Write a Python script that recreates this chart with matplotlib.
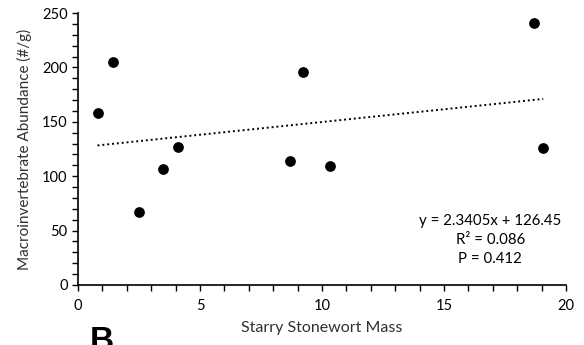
import numpy as np
import matplotlib
matplotlib.use('Agg')
import matplotlib.pyplot as plt
from matplotlib.ticker import MultipleLocator

plt.rcParams['font.family'] = ['Lato', 'DejaVu Sans']

# starry stonewort mass vs macroinvertebrate abundance
mass = [0.80, 1.45, 2.51, 3.50, 4.11, 8.69, 9.23, 10.31, 18.68, 19.07]
abundance = [158, 205, 67, 107, 127, 114, 196, 109, 241, 126]

slope = 2.3405
intercept = 126.45
eq_text = 'y = 2.3405x + 126.45\nR² = 0.086\nP = 0.412'

fig = plt.figure(figsize=(5.84, 3.45), dpi=100)
ax = fig.add_axes([0.1336, 0.174, 0.8354, 0.788])

ax.scatter(mass, abundance, s=45, color='black', zorder=3)

xfit = np.array([min(mass), max(mass)])
ax.plot(xfit, slope * xfit + intercept, color='black', linestyle=(0, (1, 1.5)), linewidth=1.4)

ax.set_xlim(0, 20)
ax.set_ylim(0, 250)
ax.xaxis.set_major_locator(MultipleLocator(5))
ax.xaxis.set_minor_locator(MultipleLocator(1))
ax.yaxis.set_major_locator(MultipleLocator(50))
ax.yaxis.set_minor_locator(MultipleLocator(10))
ax.tick_params(which='both', direction='out', length=4, width=1, labelsize=10.5, colors='black')
ax.tick_params(axis='x', pad=6)
for s in ['top', 'right']:
    ax.spines[s].set_visible(False)
for s in ['left', 'bottom']:
    ax.spines[s].set_linewidth(1.2)

ax.set_xlabel('Starry Stonewort Mass', fontsize=11.5, color='#303030', labelpad=6)
ax.set_ylabel('Macroinvertebrate Abundance (#/g)', fontsize=11, color='#303030', labelpad=7)

ax.text(0.845, 0.165, eq_text, transform=ax.transAxes, ha='center', va='center',
        fontsize=10.8, linespacing=1.45)

fig.text(0.153, -0.035, 'B', fontsize=24, fontweight='bold', family='Liberation Sans', va='bottom')

fig.savefig('out.png', dpi=100)
